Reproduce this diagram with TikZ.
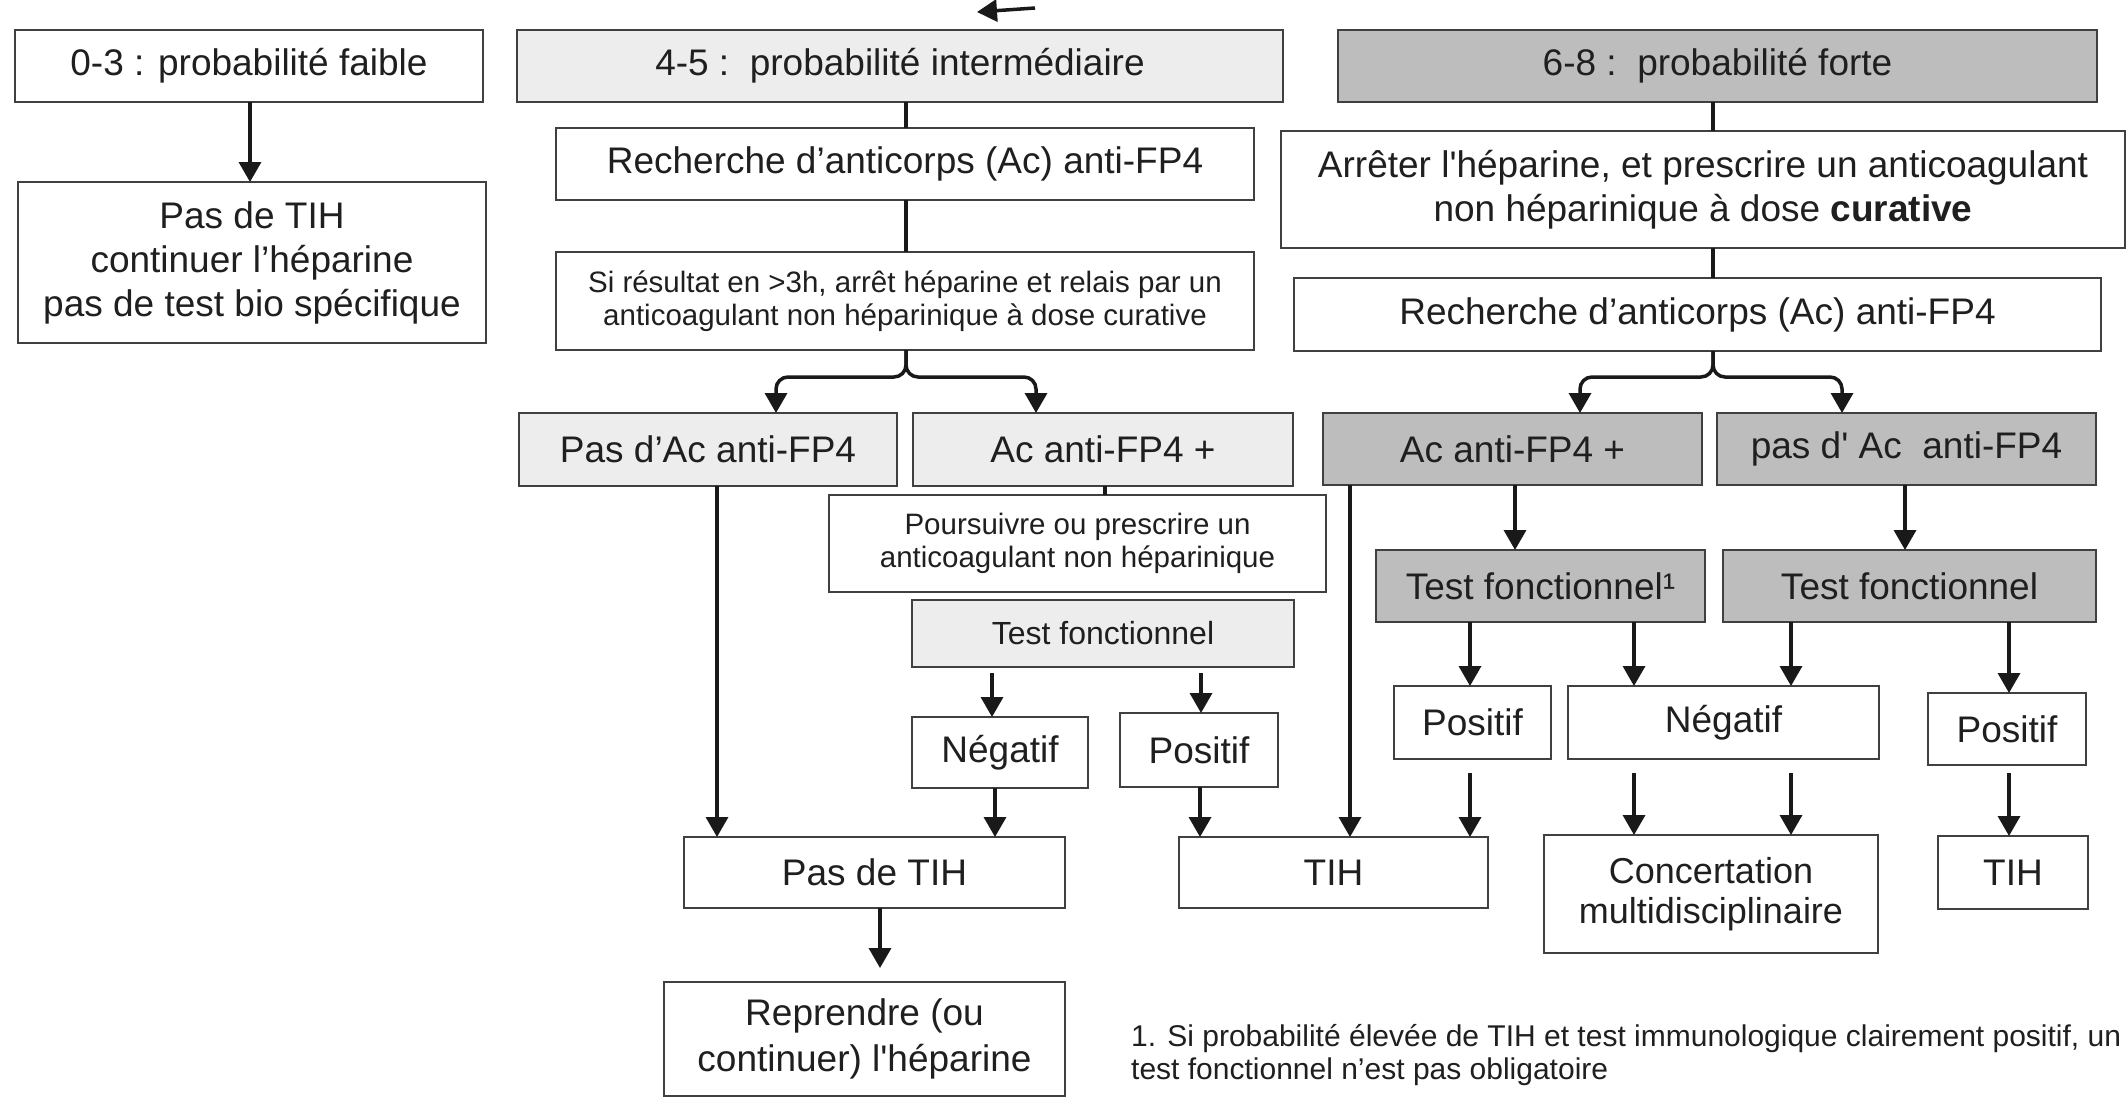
\documentclass[tikz,border=0pt]{standalone}
\usepackage{fontspec}
\setmainfont{Liberation Sans}
\usetikzlibrary{arrows.meta}
\begin{document}
\begin{tikzpicture}[x=1pt,y=-1pt,
  box/.style={draw=black!75, line width=2.6pt, inner sep=0pt, outer sep=0pt, align=center,
    font=\fontsize{37}{44}\selectfont, text=black!88},
  wh/.style 2 args={minimum width=#1pt, minimum height=#2pt},
  light/.style={fill=black!7},
  dark/.style={fill=black!26},
  small/.style={font=\fontsize{29.5}{33}\selectfont},
  arr/.style={line width=3.5pt, draw=black!90, -{Triangle[width=22pt,length=20pt]}},
  ln/.style={line width=3.5pt, draw=black!90},
]
\useasboundingbox (0,0) rectangle (2128,1098);
\fill[white] (0,0) rectangle (2128,1098);

% left column
\node[box, wh={468}{72}] (p03) at (249,66) {0-3 : probabilité faible};
\node[box, wh={468}{161}] (ntih03) at (252,262.5) {Pas de TIH\\continuer l’héparine\\pas de test bio spécifique};

% middle column
\node[box, light, wh={766}{72}] (p45) at (900,66) {4-5 :\ \ probabilité intermédiaire};
\node[box, wh={698}{72}] (rech1) at (905,164) {Recherche d’anticorps (Ac) anti-FP4};
\node[box, small, wh={698}{98}] (siRes) at (905,301) {Si résultat en >3h, arrêt héparine et relais par un\\anticoagulant non héparinique à dose curative};
\node[box, light, wh={378}{73}] (pasac1) at (708,449.5) {Pas d’Ac anti-FP4};
\node[box, light, wh={380}{73}] (acp1) at (1103,449.5) {Ac anti-FP4 +};
\node[box, small, wh={497}{97}] (pours) at (1077.5,543.5) {Poursuivre ou prescrire un\\anticoagulant non héparinique};
\node[box, light, wh={382}{67}, font=\fontsize{32}{38}\selectfont] (tf1) at (1103,633.5) {Test fonctionnel};
\node[box, wh={176}{71}] (neg1) at (1000,752.5) {Négatif};
\node[box, wh={158}{74}] (pos1) at (1199,750) {Positif};
\node[box, wh={381}{71}] (ntih) at (874.5,872.5) {Pas de TIH};
\node[box, wh={401}{114}, font=\fontsize{37}{46}\selectfont] (repr) at (864.5,1039) {Reprendre (ou\\continuer) l\textquotesingle héparine};

% right column
\node[box, dark, wh={759}{72}] (p68) at (1717.5,66) {6-8 :\ \ probabilité forte};
\node[box, wh={844}{117}] (arret) at (1703,189.5) {Arrêter l\textquotesingle héparine, et prescrire un anticoagulant\\non héparinique à dose \textbf{curative}};
\node[box, wh={807}{73}] (rech2) at (1697.5,314.5) {Recherche d’anticorps (Ac) anti-FP4};
\node[box, dark, wh={379}{72}] (acp2) at (1512.5,449) {Ac anti-FP4 +};
\node[box, dark, wh={379}{72}] (pasac2) at (1906.5,449) {pas d\textquotesingle\ Ac\ \ anti-FP4};
\node[box, dark, wh={329}{72}] (tf2) at (1540.5,586) {Test fonctionnel¹};
\node[box, dark, wh={373}{72}] (tf3) at (1909.5,586) {Test fonctionnel};
\node[box, wh={157}{73}] (pos2) at (1472.5,722.5) {Positif};
\node[box, wh={311}{73}] (neg2) at (1723.5,722.5) {Négatif};
\node[box, wh={158}{72}] (pos3) at (2007,729) {Positif};
\node[box, wh={309}{71}] (tih1) at (1333.5,872.5) {TIH};
\node[box, wh={334}{118}, font=\fontsize{36}{40}\selectfont] (conc) at (1711,894) {Concertation\\multidisciplinaire};
\node[box, wh={150}{73}] (tih2) at (2013,872.5) {TIH};

% footnote
\node[anchor=north west, align=left, inner sep=0pt, font=\fontsize{30}{33}\selectfont, text=black!88] (foot) at (1131,1024)
  {1. Si probabilité élevée de TIH et test immunologique clairement positif, un\\test fonctionnel n’est pas obligatoire};

% cut-off arrow at the top
\coordinate (cutA) at (1035,8);
\coordinate (cutB) at (977,12);
\draw[arr] (cutA) -- (cutB);

% connectors
\draw[arr] (250,0 |- p03.south) -- (250,0 |- ntih03.north);

\draw[ln] (906,0 |- p45.south) -- (906,0 |- rech1.north);
\draw[ln] (906,0 |- rech1.south) -- (906,0 |- siRes.north);
\draw[arr, rounded corners=12pt] (906,0 |- siRes.south) -- ++(0,27) -| (776,0 |- pasac1.north);
\draw[arr, rounded corners=12pt] (906,0 |- siRes.south) -- ++(0,27) -| (1036,0 |- acp1.north);

\draw[ln] (1713,0 |- p68.south) -- (1713,0 |- arret.north);
\draw[ln] (1713,0 |- arret.south) -- (1713,0 |- rech2.north);
\draw[arr, rounded corners=12pt] (1713,0 |- rech2.south) -- ++(0,26) -| (1580,0 |- acp2.north);
\draw[arr, rounded corners=12pt] (1713,0 |- rech2.south) -- ++(0,26) -| (1842,0 |- pasac2.north);

\draw[arr] (717,0 |- pasac1.south) -- (717,0 |- ntih.north);
\draw[ln] (1105,0 |- acp1.south) -- (1105,0 |- pours.north);
\draw[arr, shorten <=6pt] (992,0 |- tf1.south) -- (992,0 |- neg1.north);
\draw[arr, shorten <=6pt] (1201,0 |- tf1.south) -- (1201,0 |- pos1.north);
\draw[arr] (995,0 |- neg1.south) -- (995,0 |- ntih.north);
\draw[arr] (1200,0 |- pos1.south) -- (1200,0 |- tih1.north);
\draw[arr, shorten >=14pt] (880,0 |- ntih.south) -- (880,0 |- repr.north);

\draw[arr] (1350,0 |- acp2.south) -- (1350,0 |- tih1.north);
\draw[arr] (1515,0 |- acp2.south) -- (1515,0 |- tf2.north);
\draw[arr] (1905,0 |- pasac2.south) -- (1905,0 |- tf3.north);
\draw[arr] (1470,0 |- tf2.south) -- (1470,0 |- pos2.north);
\draw[arr] (1634,0 |- tf2.south) -- (1634,0 |- neg2.north);
\draw[arr] (1791,0 |- tf3.south) -- (1791,0 |- neg2.north);
\draw[arr] (2009,0 |- tf3.south) -- (2009,0 |- pos3.north);
\draw[arr, shorten <=14pt] (1470,0 |- pos2.south) -- (1470,0 |- tih1.north);
\draw[arr, shorten <=14pt] (1634,0 |- neg2.south) -- (1634,0 |- conc.north);
\draw[arr, shorten <=14pt] (1791,0 |- neg2.south) -- (1791,0 |- conc.north);
\draw[arr, shorten <=8pt] (2009,0 |- pos3.south) -- (2009,0 |- tih2.north);
\end{tikzpicture}
\end{document}
